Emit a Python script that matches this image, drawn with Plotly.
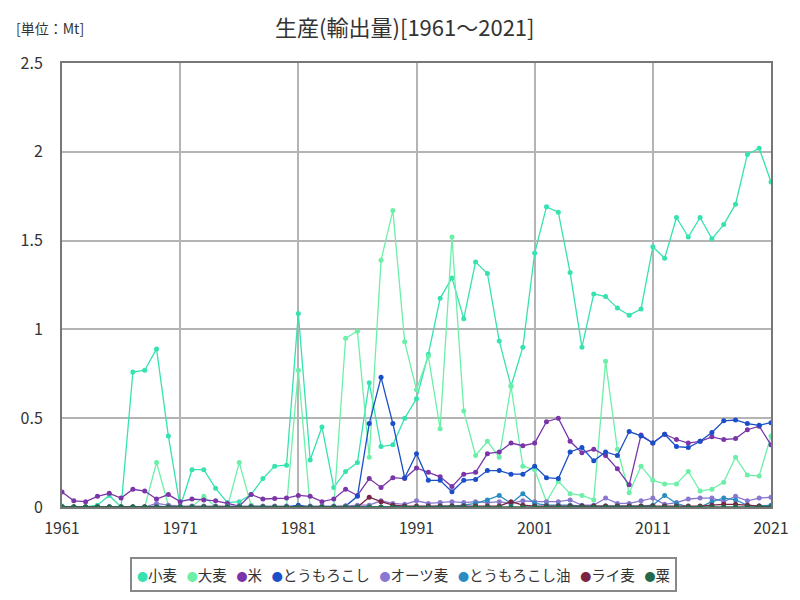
import plotly.graph_objects as go

years = list(range(1961, 2022))

wheat = [0.005, 0.0, 0.0, 0.01, 0.065, 0.0, 0.76, 0.77, 0.89, 0.40,
         0.0, 0.21, 0.21, 0.105, 0.025, 0.03, 0.07, 0.16, 0.23, 0.235,
         1.09, 0.265, 0.45, 0.11, 0.20, 0.25, 0.70, 0.34, 0.35, 0.50,
         0.61, 0.86, 1.175, 1.29, 1.06, 1.38, 1.315, 0.935, 0.68, 0.90,
         1.43, 1.69, 1.66, 1.32, 0.90, 1.20, 1.185, 1.12, 1.08, 1.115,
         1.465, 1.40, 1.63, 1.52, 1.63, 1.51, 1.59, 1.705, 1.985, 2.02,
         1.83]
barley = [0.0, 0.0, 0.0, 0.0, 0.0, 0.0, 0.0, 0.0, 0.25, 0.01,
          0.0, 0.0, 0.06, 0.0, 0.0, 0.25, 0.01, 0.0, 0.0, 0.0,
          0.77, 0.0, 0.0, 0.0, 0.95, 0.99, 0.28, 1.39, 1.67, 0.93,
          0.66, 0.85, 0.44, 1.52, 0.54, 0.29, 0.37, 0.28, 0.68, 0.23,
          0.21, 0.03, 0.145, 0.075, 0.065, 0.04, 0.82, 0.325, 0.08, 0.23,
          0.15, 0.13, 0.13, 0.20, 0.09, 0.10, 0.14, 0.28, 0.18, 0.175,
          0.40]
rice = [0.085, 0.035, 0.03, 0.06, 0.077, 0.05, 0.10, 0.09, 0.045, 0.07,
        0.03, 0.045, 0.04, 0.035, 0.02, 0.005, 0.07, 0.045, 0.048, 0.05,
        0.065, 0.06, 0.03, 0.045, 0.10, 0.065, 0.16, 0.11, 0.165, 0.16,
        0.22, 0.195, 0.17, 0.115, 0.185, 0.195, 0.30, 0.31, 0.36, 0.345,
        0.36, 0.48, 0.50, 0.37, 0.305, 0.325, 0.29, 0.215, 0.125, 0.405,
        0.36, 0.41, 0.38, 0.36, 0.37, 0.395, 0.38, 0.385, 0.435, 0.455,
        0.35]
corn = [0.0, 0.0, 0.0, 0.0, 0.0, 0.0, 0.0, 0.0, 0.005, 0.0,
        0.0, 0.0, 0.0, 0.0, 0.0, 0.0, 0.0, 0.0, 0.0, 0.0,
        0.01, 0.0, 0.0, 0.0, 0.005, 0.06, 0.47, 0.73, 0.47, 0.165,
        0.30, 0.15, 0.15, 0.086, 0.15, 0.155, 0.205, 0.205, 0.185, 0.185,
        0.23, 0.165, 0.16, 0.31, 0.335, 0.26, 0.31, 0.29, 0.425, 0.40,
        0.36, 0.41, 0.34, 0.335, 0.37, 0.42, 0.485, 0.49, 0.47, 0.46,
        0.475]
oats = [0.0, 0.0, 0.0, 0.0, 0.0, 0.0, 0.0, 0.0, 0.02, 0.01,
        0.005, 0.005, 0.005, 0.005, 0.005, 0.005, 0.005, 0.005, 0.005, 0.005,
        0.0, 0.005, 0.005, 0.005, 0.005, 0.01, 0.01, 0.035, 0.02, 0.015,
        0.035, 0.02, 0.025, 0.03, 0.025, 0.03, 0.025, 0.03, 0.02, 0.035,
        0.03, 0.03, 0.03, 0.04, 0.01, 0.01, 0.05, 0.02, 0.02, 0.035,
        0.05, 0.015, 0.025, 0.045, 0.05, 0.05, 0.03, 0.06, 0.035, 0.05,
        0.055]
corn_oil = [0.0, 0.0, 0.0, 0.0, 0.0, 0.0, 0.0, 0.0, 0.0, 0.0,
            0.0, 0.0, 0.0, 0.0, 0.0, 0.0, 0.0, 0.0, 0.0, 0.0,
            0.0, 0.0, 0.0, 0.0, 0.0, 0.0, 0.0, 0.0, 0.0, 0.0,
            0.0, 0.0, 0.005, 0.005, 0.01, 0.02, 0.04, 0.065, 0.02, 0.075,
            0.02, 0.01, 0.01, 0.01, 0.005, 0.005, 0.005, 0.005, 0.005, 0.005,
            0.01, 0.065, 0.02, 0.0, 0.0, 0.03, 0.05, 0.04, 0.01, 0.005,
            0.01]
rye = [0.0, 0.0, 0.0, 0.0, 0.0, 0.0, 0.0, 0.0, 0.0, 0.0,
       0.0, 0.0, 0.0, 0.0, 0.0, 0.0, 0.0, 0.0, 0.0, 0.0,
       0.0, 0.0, 0.0, 0.0, 0.0, 0.0, 0.055, 0.03, 0.01, 0.005,
       0.005, 0.005, 0.005, 0.005, 0.005, 0.005, 0.005, 0.005, 0.03, 0.01,
       0.005, 0.005, 0.005, 0.005, 0.005, 0.005, 0.005, 0.005, 0.005, 0.005,
       0.005, 0.005, 0.005, 0.005, 0.005, 0.01, 0.015, 0.015, 0.01, 0.005,
       0.0]
millet = [0.0] * 61

series_names = ["小麦", "大麦", "米", "とうもろこし", "オーツ麦", "とうもろこし油", "ライ麦", "粟"]
series_values = [wheat, barley, rice, corn, oats, corn_oil, rye, millet]
colors = ["#36e3b0", "#6cf0a8", "#7a35a8", "#1a4fc8", "#8a78d0", "#2a8cc0", "#7a2444", "#226a48"]

tick_years = [1961, 1971, 1981, 1991, 2001, 2011, 2021]
y_ticks = [0, 0.5, 1, 1.5, 2, 2.5]
y_tick_labels = ["0", "0.5", "1", "1.5", "2", "2.5"]

font_family = "Noto Sans CJK JP"

fig = go.Figure()
for name, vals, col in zip(series_names, series_values, colors):
    fig.add_trace(go.Scatter(
        x=years, y=vals, name=name, mode="lines+markers",
        line=dict(color=col, width=1.3),
        marker=dict(color=col, size=5),
        showlegend=False,
    ))

legend_text = "&nbsp;&nbsp;&nbsp;".join(
    f"<span style='color:{c};font-size:11px'>●</span>{n}" for n, c in zip(series_names, colors)
)

fig.update_layout(
    width=800, height=600,
    margin=dict(l=54, r=37, t=55, b=101, autoexpand=False),
    paper_bgcolor="white", plot_bgcolor="white",
    font=dict(family=font_family, color="#333333"),
    title=dict(text="生産(輸出量)[1961～2021]", x=0.496, xanchor="center",
               y=0.967, yanchor="middle", font=dict(size=22, color="#333333")),
    showlegend=False,
    annotations=[
        dict(text="[単位：Mt]", xref="paper", yref="paper",
             x=-0.068, y=1.079, xanchor="left", yanchor="middle",
             showarrow=False, font=dict(size=14, color="#333333")),
        dict(text=legend_text, xref="paper", yref="paper",
             x=0.482, y=-0.153, xanchor="center", yanchor="middle",
             showarrow=False, font=dict(size=14.5, color="#333333"),
             bordercolor="#888888", borderwidth=2, borderpad=5, bgcolor="white"),
    ],
)
fig.update_xaxes(range=[1961, 2021], tickvals=tick_years,
                 ticktext=[str(t) for t in tick_years],
                 showgrid=True, gridcolor="#b4b4b4", gridwidth=2,
                 showline=True, linecolor="#777777", linewidth=2, mirror=True,
                 ticks="", ticklabelstandoff=6, automargin=False,
                 tickfont=dict(size=16, color="#333333"), zeroline=False)
fig.update_yaxes(range=[0, 2.5], tickvals=y_ticks, ticktext=y_tick_labels,
                 showgrid=True, gridcolor="#b4b4b4", gridwidth=2,
                 showline=True, linecolor="#777777", linewidth=2, mirror=True,
                 ticks="", ticklabelstandoff=14, automargin=False,
                 tickfont=dict(size=16, color="#333333"), zeroline=False)

fig.write_html("out.html")
